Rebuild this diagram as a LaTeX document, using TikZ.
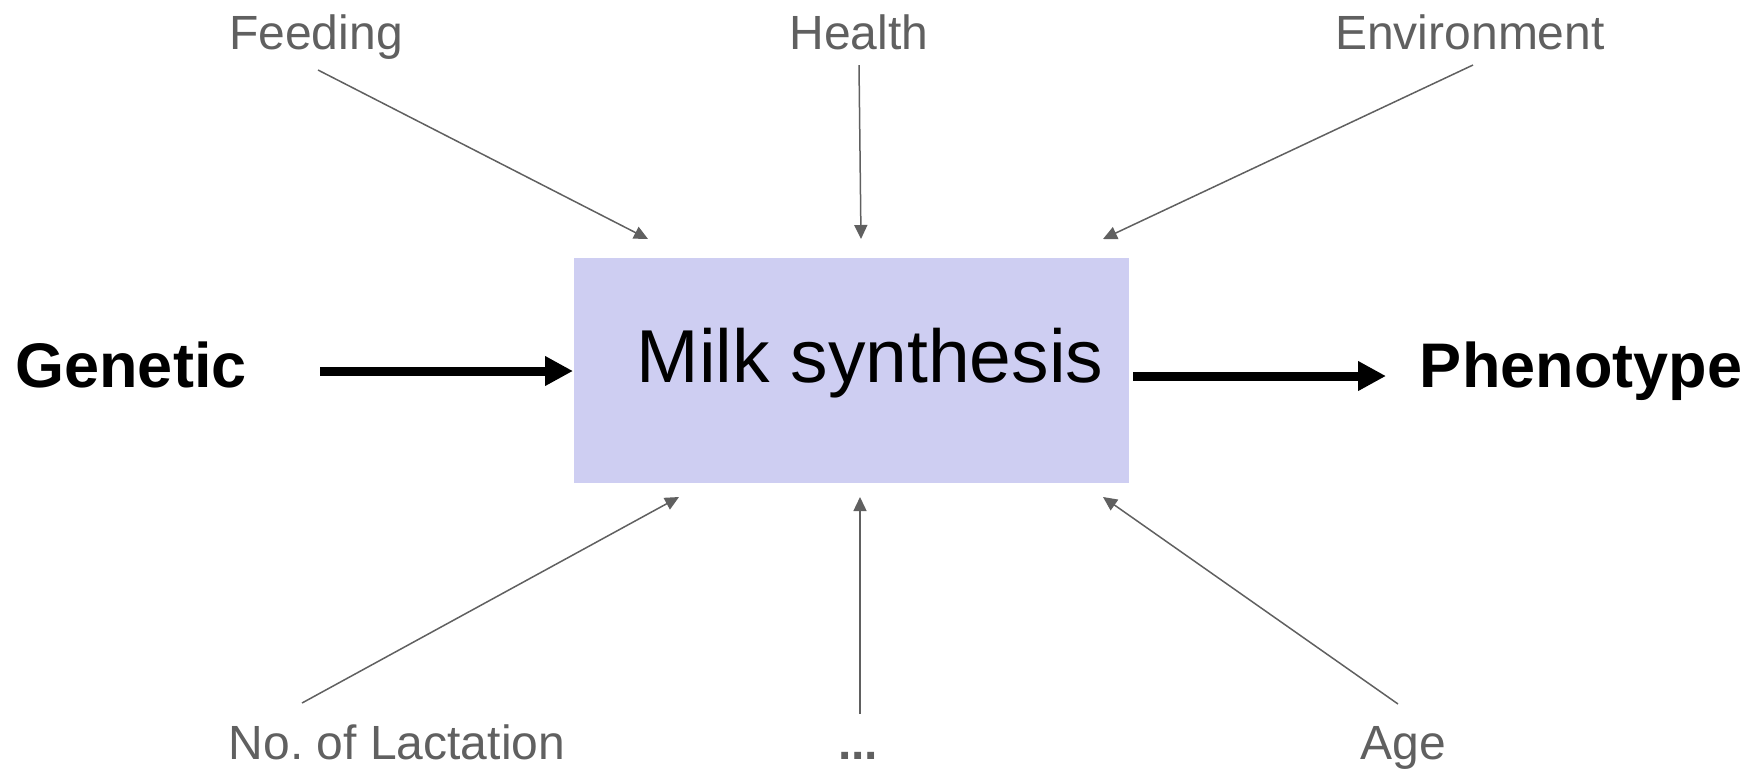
\documentclass[tikz,border=0pt]{standalone}
\usepackage{fontspec}
\setmainfont{Liberation Sans}
\usetikzlibrary{arrows.meta}
\definecolor{labgray}{RGB}{96,96,96}
\definecolor{boxfill}{RGB}{206,206,242}
\begin{document}
\begin{tikzpicture}[x=0.5pt,y=-0.5pt,
  factor/.style={text=labgray,font=\fontsize{24pt}{28pt}\selectfont,inner sep=0pt,anchor=base},
  big/.style={font=\fontsize{31.5pt}{38pt}\selectfont\bfseries,inner sep=0pt,anchor=base},
  thin/.style={draw=labgray,line width=0.75pt,-{Triangle[length=7pt,width=6.5pt]}},
  thick/.style={draw=black,line width=4.5pt,-{Triangle[length=14pt,width=14pt]}}]
\useasboundingbox (0,0) rectangle (1760,768);
\node[fill=boxfill,minimum width=555.5pt*0.5,minimum height=225pt*0.5,inner sep=0pt] (box) at (851.3,370.5) {};
\node[inner sep=0pt,anchor=base,font=\fontsize{37.5pt}{44pt}\selectfont] (milk) at (870,382) {Milk synthesis};
\node[big] (gen) at (131,387) {Genetic};
\node[big] (phe) at (1581,387) {Phenotype};
\node[factor] (feed) at (316,49) {Feeding};
\node[factor] (health) at (859,49) {Health};
\node[factor] (env) at (1470,49) {Environment};
\node[factor] (lact) at (397,759) {No.\ of Lactation};
\node[factor,font=\fontsize{24pt}{28pt}\selectfont\bfseries] (dots) at (858,759) {...};
\node[factor] (age) at (1403,759) {Age};
\coordinate (gs) at (320,371);
\coordinate (ge) at (573,371);
\coordinate (ps) at (1133,376);
\coordinate (pe) at (1386,376);
\coordinate (fs) at (318,70);
\coordinate (fe) at (648,239);
\coordinate (hs) at (859,65);
\coordinate (he) at (861,239);
\coordinate (es) at (1473,65);
\coordinate (ee) at (1103,239);
\coordinate (ls) at (302,703);
\coordinate (le) at (679,497);
\coordinate (ds) at (860,714);
\coordinate (de) at (860,497);
\coordinate (as) at (1398,704);
\coordinate (ae) at (1103,497);
\draw[thick] (gs) -- (ge);
\draw[thick] (ps) -- (pe);
\draw[thin] (fs) -- (fe);
\draw[thin] (hs) -- (he);
\draw[thin] (es) -- (ee);
\draw[thin] (ls) -- (le);
\draw[thin] (ds) -- (de);
\draw[thin] (as) -- (ae);
\end{tikzpicture}
\end{document}
